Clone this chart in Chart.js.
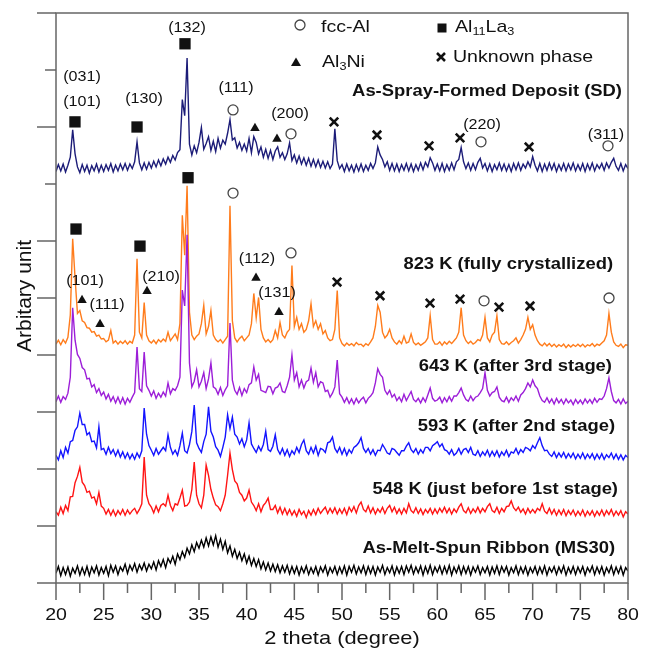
<!DOCTYPE html>
<html>
<head>
<meta charset="utf-8">
<script src="https://cdn.jsdelivr.net/npm/chart.js@4.4.0/dist/chart.umd.min.js"></script>
<style>
  html, body { margin: 0; padding: 0; background: #fff; }
</style>
</head>
<body>
<canvas id="xrd" width="652" height="653"></canvas>
<script>
// 2 theta sampling grid (degree), 0.25 step
const twoTheta = Array.from({ length: 241 }, (_, i) => 20 + i * 0.25);

// relative intensities, one line per 5 degrees
const ms30 = [
  -.02,.10,-.06,.08,-.04,.09,-.07,.07,-.02,.11,-.05,.08,-.04,.10,-.06,.09,-.01,.11,-.05,.08,
  -.02,.10,-.06,.12,.00,.11,-.04,.09,.02,.14,-.02,.12,.03,.15,.00,.13,.04,.16,.02,.14,
  .06,.18,.04,.20,.10,.22,.08,.24,.16,.28,.14,.32,.22,.36,.26,.42,.32,.48,.36,.52,
  .42,.56,.44,.60,.46,.62,.48,.64,.44,.58,.40,.54,.34,.46,.28,.40,.24,.35,.20,.32,
  .16,.28,.12,.24,.10,.22,.06,.18,.04,.16,.02,.14,.01,.13,-.01,.11,.00,.12,-.03,.10,
  -.02,.10,-.05,.09,-.01,.11,-.04,.08,-.02,.10,-.05,.09,.00,.11,-.05,.08,-.01,.10,-.04,.09,
  -.02,.11,-.05,.10,.00,.12,-.03,.09,-.01,.11,-.04,.10,-.02,.10,-.05,.09,.00,.12,-.04,.08,
  -.01,.11,-.05,.09,-.02,.10,-.04,.11,.00,.12,-.03,.09,-.01,.11,-.05,.10,-.02,.12,-.04,.09,
  .00,.11,-.03,.10,-.02,.12,-.05,.09,-.01,.11,-.04,.10,-.02,.10,-.05,.09,.00,.11,-.04,.08,
  -.01,.10,-.05,.09,-.02,.11,-.04,.10,.00,.10,-.05,.08,-.01,.11,-.04,.09,-.02,.10,-.05,.08,
  -.01,.10,-.04,.09,-.02,.11,-.05,.08,.00,.10,-.04,.09,-.01,.11,-.05,.08,-.02,.10,-.04,.09,
  -.01,.10,-.05,.08,.00,.11,-.04,.09,-.02,.10,-.05,.08,-.01,.11,-.04,.09,-.02,.10,-.05,.08,
  .02
];
const k548 = [
  .06,.00,.14,.03,.17,.08,.32,.33,.57,.68,.84,.58,.52,.40,.42,.30,.32,.20,.40,.16,
  .12,.02,.10,.00,.09,-.01,.08,.01,.10,.00,.09,.02,.08,.12,.03,.10,.20,1.02,.35,.20,
  .14,.04,.16,.06,.17,.20,.16,.35,.17,.08,.20,.18,.30,.44,.16,.17,.23,.45,.93,.35,
  .20,.13,.35,.88,.70,.45,.30,.18,.15,.08,.20,.35,.70,1.09,.80,.60,.55,.40,.35,.25,
  .30,.44,.23,.17,.08,.20,.06,.17,.22,.30,.10,.10,.17,.04,.14,.02,.12,.01,.10,.00,
  .08,-.02,.10,.01,.07,-.04,.08,.00,.10,.01,.12,.03,.09,.14,.03,.12,.04,.13,.02,.11,
  .03,.12,.01,.14,.06,.15,.04,.17,.23,.10,.06,.16,.04,.13,.02,.11,.05,.14,.03,.12,
  .17,.06,.14,.03,.11,.02,.12,.04,.20,.08,.04,.13,.03,.11,.01,.10,.04,.12,.02,.11,
  .03,.12,.05,.14,.04,.12,.02,.11,.05,.14,.20,.08,.04,.13,.03,.11,.05,.14,.04,.12,
  .06,.15,.20,.08,.05,.14,.03,.12,.06,.15,.16,.25,.13,.08,.14,.05,.11,.02,.12,.04,
  .10,.04,.12,.08,.20,.07,.03,.12,.02,.10,.00,.09,.01,.10,-.01,.08,.01,.09,-.01,.07,
  .00,.09,-.02,.07,.00,.08,-.02,.07,.00,.09,-.01,.08,.01,.10,-.01,.07,.00,.08,-.03,.06,
  .02
];
const k593 = [
  .08,.00,.16,.04,.22,.12,.32,.34,.52,.58,.82,.62,.62,.44,.48,.32,.33,.21,.58,.18,
  .20,.10,.22,.11,.18,.07,.17,.05,.14,.03,.12,.02,.10,.01,.12,.04,.16,.91,.45,.25,
  .17,.08,.20,.10,.16,.22,.16,.44,.22,.10,.17,.08,.25,.47,.16,.12,.27,.50,.96,.30,
  .20,.13,.32,.45,.93,.50,.40,.23,.17,.06,.22,.40,.79,.55,.75,.45,.40,.28,.37,.23,
  .35,.65,.28,.20,.13,.24,.16,.27,.50,.18,.15,.24,.44,.18,.10,.20,.08,.18,.06,.16,
  .10,.22,.13,.27,.35,.16,.10,.22,.12,.24,.08,.20,.18,.13,.30,.32,.40,.20,.13,.22,
  .10,.20,.08,.18,.12,.22,.25,.30,.39,.20,.13,.20,.10,.18,.08,.17,.16,.27,.20,.12,
  .10,.20,.18,.13,.08,.16,.16,.24,.30,.18,.13,.20,.10,.18,.12,.22,.22,.16,.25,.28,
  .32,.23,.28,.18,.16,.10,.18,.08,.12,.20,.10,.18,.20,.13,.22,.10,.08,.16,.06,.14,
  .08,.17,.06,.15,.07,.16,.05,.14,.08,.17,.06,.14,.12,.20,.10,.18,.13,.22,.20,.16,
  .25,.20,.30,.39,.25,.16,.17,.10,.06,.14,.04,.12,.05,.13,.03,.11,.04,.12,.02,.10,
  .03,.12,.02,.10,.03,.11,.01,.10,.02,.11,.01,.09,.04,.12,.02,.10,.01,.09,.00,.08,
  .04
];
const k643 = [
  .02,.12,.01,.11,.06,.17,.45,1.67,1.10,.85,.78,.62,.58,.42,.43,.28,.32,.18,.25,.13,
  .19,.07,.15,.03,.11,.00,.10,-.01,.09,-.02,.08,.01,.10,.18,.98,.25,.20,.89,.30,.22,
  .12,.21,.08,.17,.10,.19,.12,.35,.16,.25,.22,.30,.45,1.98,1.70,2.95,.70,.28,.38,.58,
  .28,.38,.53,.25,.42,.70,.28,.25,.15,.27,.13,.23,.30,1.40,.40,.22,.15,.27,.13,.25,
  .18,.32,.35,.63,.40,.50,.22,.20,.18,.29,.28,.16,.26,.28,.35,.20,.18,.30,.45,.84,
  .40,.53,.28,.40,.26,.37,.40,.61,.36,.53,.28,.37,.35,.20,.22,.10,.17,.28,.75,.16,
  .10,.01,.09,-.01,.07,-.02,.08,.00,.06,.10,.00,.08,.12,.18,.35,.60,.50,.45,.22,.15,
  .22,.10,.15,.04,.10,.02,.15,.04,.12,.20,.06,.02,.08,.00,.09,.02,.14,.26,.08,.03,
  .05,.10,.00,.09,.02,.11,.03,.12,.12,.18,.26,.14,.06,.03,.12,.04,.10,.12,.18,.25,
  .53,.22,.12,.18,.20,.28,.10,.04,.02,.10,.01,.09,.04,.12,.03,.14,.18,.25,.35,.28,
  .40,.30,.25,.12,.04,.01,.09,.00,.07,-.02,.08,.00,.06,-.02,.07,.00,.05,-.03,.06,-.01,
  .05,-.02,.07,.00,.06,-.01,.08,.01,.07,.06,.12,.25,.44,.20,.04,.00,.06,-.02,.07,-.01,
  .03
];
const k823 = [
  .04,.11,.03,.12,.06,.16,.55,1.89,1.20,.58,.63,.45,.42,.33,.32,.25,.26,.18,.20,.13,
  .14,.08,.11,.28,.06,.10,.04,.09,.05,.10,.04,.09,.06,.20,1.54,.25,.15,.77,.20,.10,
  .06,.11,.05,.12,.08,.13,.09,.25,.10,.16,.22,.12,.40,2.30,1.60,2.82,.60,.20,.12,.18,
  .22,.40,.72,.22,.35,.63,.20,.12,.08,.12,.06,.12,.18,2.47,.45,.15,.08,.14,.18,.10,
  .15,.20,.40,.93,.50,.86,.30,.15,.08,.12,.07,.12,.28,.15,.42,.20,.15,.25,.30,1.42,
  .35,.51,.30,.40,.25,.30,.45,.75,.35,.45,.30,.40,.22,.28,.15,.10,.12,.30,.98,.15,
  .05,.01,.06,.02,.05,.01,.07,.03,.04,.00,.05,.02,.08,.15,.35,.72,.60,.25,.15,.20,
  .30,.15,.08,.04,.10,.05,.18,.06,.08,.22,.07,.03,.06,.02,.05,.08,.15,.54,.12,.04,
  .04,.08,.02,.08,.04,.09,.05,.10,.15,.25,.68,.20,.10,.05,.09,.04,.07,.12,.10,.20,
  .51,.15,.08,.20,.25,.54,.12,.05,.04,.08,.03,.07,.10,.15,.06,.12,.20,.30,.51,.30,
  .38,.20,.10,.04,.01,.06,.01,.05,.00,.04,-.01,.03,.00,.04,-.02,.03,-.01,.03,.00,.04,
  .00,.04,-.01,.03,.01,.05,.00,.04,.02,.06,.10,.20,.58,.25,.08,.02,.00,.04,-.02,.03,
  .02
];
const sd = [
  -.03,.09,-.02,.10,-.04,.08,.22,.70,.28,.05,-.05,.09,-.03,.08,-.06,.07,-.02,.10,-.04,.08,
  -.03,.09,-.01,.11,-.04,.08,-.02,.10,.00,.11,-.01,.10,.02,.14,.49,.12,.00,.12,.01,.13,
  .03,.15,.05,.17,.07,.19,.10,.22,.13,.25,.17,.30,.35,1.23,.95,1.96,.45,.26,.42,.30,
  .48,.74,.36,.46,.58,.34,.50,.32,.55,.38,.52,.45,.64,.88,.52,.56,.38,.48,.34,.45,
  .33,.55,.30,.58,.48,.28,.40,.22,.36,.20,.34,.18,.33,.40,.22,.30,.18,.28,.47,.16,
  .26,.12,.24,.10,.21,.08,.20,.06,.18,.05,.17,.04,.15,.03,.14,.02,.10,.72,.16,.02,
  .09,-.03,.10,-.02,.08,-.04,.09,-.02,.10,-.03,.08,-.01,.11,.02,.12,.40,.26,.18,.05,.14,
  -.01,.11,-.02,.10,-.03,.09,-.01,.11,-.02,.10,-.03,.09,-.01,.12,.00,.13,.05,.21,.12,-.01,
  .10,-.02,.11,-.03,.09,-.01,.12,.00,.14,.18,.39,.14,.02,.12,-.01,.11,.00,.13,.20,.03,
  .11,-.02,.10,-.03,.09,.00,.12,-.01,.10,-.02,.09,-.03,.11,.00,.12,-.01,.10,.03,.14,.05,
  .23,.08,-.02,.11,-.03,.10,-.01,.12,.00,.11,-.03,.09,-.01,.11,-.02,.10,.00,.12,-.02,.09,
  -.01,.11,-.03,.10,.00,.12,-.02,.09,.02,.11,-.01,.12,.03,.13,.20,.06,-.01,.11,-.02,.09,
  .02
];

// vertical stacking of the scans (arbitrary unit)
const seriesValues = [ms30, k548, k593, k643, k823, sd];
const stackOffset = [0.19, 1.19, 2.16, 3.16, 4.15, 7.25];
const seriesColors = ['#000000', '#ff1414', '#1414ff', '#9c1ed8', '#ff7c1c', '#1c1c78'];
const seriesNames = ['As-Melt-Spun Ribbon (MS30)', '548 K (just before 1st stage)', '593 K (after 2nd stage)',
  '643 K (after 3rd stage)', '823 K (fully crystallized)', 'As-Spray-Formed Deposit (SD)'];
const seriesLabelX = [78.64, 78.95, 78.64, 78.32, 78.43, 79.37];
const seriesLabelY = [0.61, 1.63, 2.74, 3.79, 5.58, 8.62];

// phase markers
const al11la3X = [21.99, 28.50, 33.53, 22.10, 28.81, 33.85];
const al11la3Y = [8.09, 8.00, 9.46, 6.21, 5.91, 7.11];
const fccAlX = [38.57, 44.65, 64.58, 77.90, 38.57, 44.65, 64.90, 78.01];
const fccAlY = [8.30, 7.88, 7.74, 7.67, 6.84, 5.79, 4.95, 5.00];
const al3NiX = [40.87, 43.18, 22.73, 24.62, 29.55, 40.98, 43.39];
const al3NiY = [7.98, 7.79, 4.96, 4.54, 5.12, 5.35, 4.75];
const unknownX = [49.16, 53.67, 59.13, 62.38, 69.62, 49.48, 53.99, 59.23, 62.38, 66.47, 69.72];
const unknownY = [8.09, 7.86, 7.67, 7.81, 7.65, 5.28, 5.04, 4.91, 4.98, 4.84, 4.86];

// Miller indices
const hklText = ['(031)', '(101)', '(130)', '(132)', '(111)', '(200)', '(220)', '(311)', '(101)', '(111)', '(210)', '(112)', '(131)'];
const hklX = [22.73, 22.73, 29.23, 33.74, 38.88, 44.55, 64.69, 77.69, 23.04, 25.35, 31.01, 41.08, 43.18];
const hklY = [8.88, 8.44, 8.49, 9.74, 8.68, 8.23, 8.04, 7.86, 5.30, 4.88, 5.37, 5.68, 5.09];

const xTicks = [20, 25, 30, 35, 40, 45, 50, 55, 60, 65, 70, 75, 80];
const yTicks = [0, 1, 2, 3, 4, 5, 6, 7, 8, 9, 10];

const FONT = '"Liberation Sans", Arial, sans-serif';
const SX = 1.15; // the original lettering is a bit wide

function pairs(xs, ys) {
  return xs.map((x, i) => ({ x: x, y: ys[i] }));
}

function say(ctx, str, x, y, size, opts = {}) {
  ctx.save();
  ctx.font = (opts.bold ? 'bold ' : '') + size + 'px ' + FONT;
  ctx.fillStyle = opts.color || '#111';
  ctx.textAlign = opts.align || 'center';
  ctx.textBaseline = 'middle';
  ctx.translate(x, y);
  if (opts.rotate) ctx.rotate(opts.rotate);
  ctx.scale(opts.sx || SX, 1);
  ctx.fillText(str, 0, 0);
  ctx.restore();
}

// text with subscripts, parts = [[text, isSub], ...]
function sayChem(ctx, parts, x, y, size) {
  let cx = x;
  for (const [t, sub] of parts) {
    const s = sub ? Math.round(size * 0.62) : size;
    ctx.font = s + 'px ' + FONT;
    const w = ctx.measureText(t).width * SX;
    say(ctx, t, cx, sub ? y + size * 0.3 : y, s, { align: 'left' });
    cx += w;
  }
}

function glyph(ctx, kind, x, y) {
  ctx.save();
  ctx.fillStyle = '#111';
  ctx.strokeStyle = '#111';
  ctx.beginPath();
  if (kind === 'square') {
    ctx.fillRect(x - 4.5, y - 4.5, 9, 9);
  } else if (kind === 'triangle') {
    ctx.moveTo(x, y - 5.5); ctx.lineTo(x + 5, y + 3); ctx.lineTo(x - 5, y + 3);
    ctx.closePath(); ctx.fill();
  } else if (kind === 'circle') {
    ctx.strokeStyle = '#444'; ctx.lineWidth = 1.3;
    ctx.arc(x, y, 5, 0, Math.PI * 2); ctx.stroke();
  } else {
    ctx.lineWidth = 2.5;
    ctx.moveTo(x - 4, y - 4); ctx.lineTo(x + 4, y + 4);
    ctx.moveTo(x + 4, y - 4); ctx.lineTo(x - 4, y + 4);
    ctx.stroke();
  }
  ctx.restore();
}

const frame = {
  id: 'xrdFrame',
  afterDraw(chart) {
    const { ctx, chartArea: a, scales: { x, y } } = chart;
    ctx.save();
    ctx.strokeStyle = '#666';
    ctx.lineWidth = 1.5;
    ctx.strokeRect(a.left, a.top, a.right - a.left, a.bottom - a.top);
    ctx.beginPath();
    // y ticks (no labels)
    yTicks.forEach(v => {
      const py = y.getPixelForValue(v);
      const len = (v === 7 || v === 9) ? 11 : 19;
      ctx.moveTo(a.left - len, py); ctx.lineTo(a.left, py);
    });
    // x ticks, major and minor
    xTicks.forEach((t, i) => {
      const px = x.getPixelForValue(t);
      ctx.moveTo(px, a.bottom); ctx.lineTo(px, a.bottom + 17);
      if (i < xTicks.length - 1) {
        const pm = x.getPixelForValue(t + 2.5);
        ctx.moveTo(pm, a.bottom); ctx.lineTo(pm, a.bottom + 10);
      }
    });
    ctx.stroke();
    ctx.restore();

    xTicks.forEach(t => say(ctx, String(t), x.getPixelForValue(t), a.bottom + 32, 17));
    say(ctx, '2 theta (degree)', (a.left + a.right) / 2, 639, 19);
    say(ctx, 'Arbitary unit', 25, 296, 21, { rotate: -Math.PI / 2, sx: 1 });

    // scan names
    seriesNames.forEach((n, i) => {
      say(ctx, n, x.getPixelForValue(seriesLabelX[i]), y.getPixelForValue(seriesLabelY[i]), 16, { bold: true, align: 'right' });
    });
    // Miller indices
    hklText.forEach((t, i) => {
      say(ctx, t, x.getPixelForValue(hklX[i]), y.getPixelForValue(hklY[i]), 14);
    });

    // key
    glyph(ctx, 'circle', 300, 25);
    say(ctx, 'fcc-Al', 321, 27, 17, { align: 'left' });
    glyph(ctx, 'square', 442, 28);
    sayChem(ctx, [['Al', false], ['11', true], ['La', false], ['3', true]], 455, 27, 17);
    glyph(ctx, 'triangle', 296, 63);
    sayChem(ctx, [['Al', false], ['3', true], ['Ni', false]], 322, 62, 17);
    glyph(ctx, 'cross', 441, 57);
    say(ctx, 'Unknown phase', 453, 57, 17, { align: 'left' });
  }
};

const datasets = seriesValues.map((vals, i) => ({
  data: twoTheta.map((t, j) => ({ x: t, y: vals[j] + stackOffset[i] })),
  borderColor: seriesColors[i],
  borderWidth: 1.4,
  pointRadius: 0,
  fill: false,
  order: i + 1
}));

datasets.push(
  { data: pairs(al11la3X, al11la3Y), showLine: false, pointStyle: 'rect', pointRadius: 8,
    backgroundColor: '#111', borderColor: '#111', borderWidth: 0, order: 0 },
  { data: pairs(fccAlX, fccAlY), showLine: false, pointStyle: 'circle', pointRadius: 5,
    backgroundColor: 'rgba(255,255,255,0)', borderColor: '#444', borderWidth: 1.3, order: 0 },
  { data: pairs(al3NiX, al3NiY), showLine: false, pointStyle: 'triangle', pointRadius: 5.5,
    backgroundColor: '#111', borderColor: '#111', borderWidth: 0, order: 0 },
  { data: pairs(unknownX, unknownY), showLine: false, pointStyle: 'crossRot', pointRadius: 6,
    backgroundColor: '#111', borderColor: '#111', borderWidth: 2.6, order: 0 }
);

new Chart(document.getElementById('xrd'), {
  type: 'line',
  data: { datasets: datasets },
  options: {
    responsive: false,
    animation: false,
    layout: { padding: { left: 56, top: 13, right: 24, bottom: 70 } },
    scales: {
      x: { type: 'linear', min: 20, max: 80, display: false },
      y: { type: 'linear', min: 0, max: 10, display: false }
    },
    elements: { line: { tension: 0 } },
    plugins: { legend: { display: false }, tooltip: { enabled: false } }
  },
  plugins: [frame]
});
</script>
</body>
</html>
